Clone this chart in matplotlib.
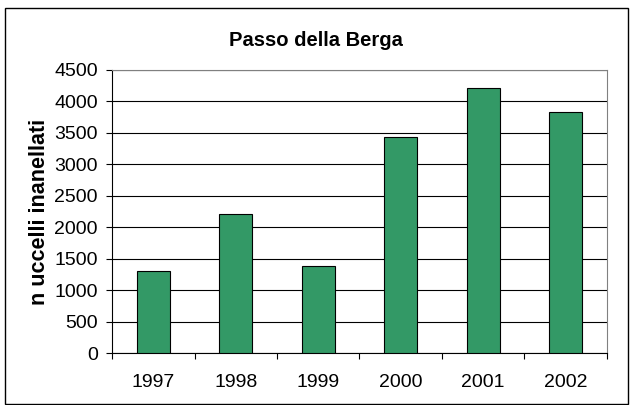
import matplotlib
matplotlib.use("Agg")
import matplotlib.pyplot as plt
from matplotlib.patches import Rectangle

years = ["1997", "1998", "1999", "2000", "2001", "2002"]
values = [1307, 2208, 1392, 3431, 4214, 3828]
yticks = [0, 500, 1000, 1500, 2000, 2500, 3000, 3500, 4000, 4500]

plt.rcParams['font.family'] = ['Liberation Sans', 'DejaVu Sans']

W, H = 631, 405
fig = plt.figure(figsize=(W / 100, H / 100), dpi=100)
ax = fig.add_axes([112.3 / W, 1 - 353.3 / H, (606.7 - 112.3) / W, (353.3 - 70) / H])

x = list(range(len(years)))
ax.bar(x, values, width=0.4, color="#339966", edgecolor="black", linewidth=0.8, zorder=3)

ax.set_xlim(-0.5, len(years) - 0.5)
ax.set_ylim(0, 4500)
ax.set_yticks(yticks)
ax.set_yticklabels([str(v) for v in yticks], fontsize=14)
ax.set_xticks(x)
ax.set_xticklabels(years, fontsize=14)
ax.tick_params(axis='x', length=0, pad=15)
ax.set_xticks([i - 0.5 for i in range(len(years) + 1)], minor=True)
ax.tick_params(axis='x', which='minor', length=4.3, direction='out', color='black', width=0.8)
ax.tick_params(axis='y', length=4.3, direction='out', width=0.8, pad=6)

ax.yaxis.grid(True, color="black", linewidth=0.8, zorder=0)
ax.set_axisbelow(True)
for s in ['top', 'right']:
    ax.spines[s].set_color('#808080')
    ax.spines[s].set_linewidth(0.8)
ax.spines['left'].set_color('black')
ax.spines['bottom'].set_color('black')

ax.set_ylabel("n uccelli inanellati", fontsize=15.5, fontweight='bold', labelpad=3)
fig.text(316 / W, 1 - 40 / H, "Passo della Berga", ha='center', va='center', fontsize=14.5, fontweight='bold')

fig.patches.append(Rectangle((5 / W, 1 - 404 / H), 623 / W, 396 / H, transform=fig.transFigure,
                             fill=False, edgecolor='black', linewidth=1))

fig.savefig("out.png", dpi=100)
